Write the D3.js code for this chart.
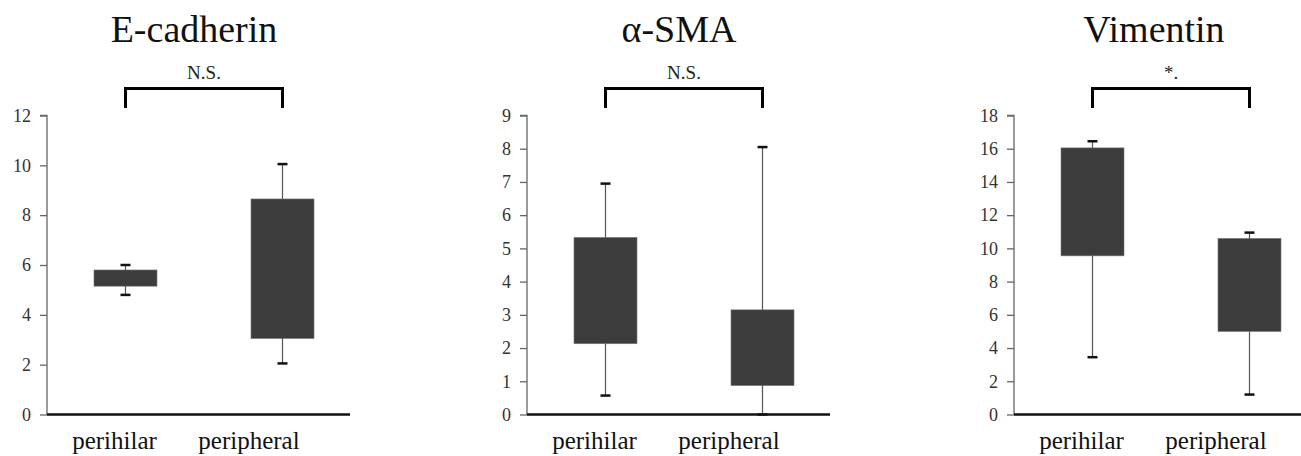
<!DOCTYPE html>
<html>
<head>
<meta charset="utf-8">
<script src="https://cdn.jsdelivr.net/npm/d3@7"></script>
<style>
  html body svg text, html body svg g text, html body svg g.tick text {
    font-family: "Liberation Serif", "Times New Roman", Times, serif !important;
  }
</style>
</head>
<body style="margin:0">
<script>
// data
const titles = ["E-cadherin", "\u03B1-SMA", "Vimentin"];
const categories = ["perihilar", "peripheral"];
const sigLabels = ["N.S.", "N.S.", "*."];
const yMax = [12, 9, 18];
const yStep = [2, 1, 2];
// per panel: [perihilar, peripheral]
const whiskerLow  = [[4.8, 2.05], [0.57, 0.0], [3.45, 1.2]];
const boxLow      = [[5.15, 3.05], [2.13, 0.87], [9.55, 5.0]];
const boxHigh     = [[5.8, 8.65], [5.33, 3.15], [16.05, 10.6]];
const whiskerHigh = [[6.0, 10.05], [6.95, 8.05], [16.45, 10.95]];

// layout
const svgwidth = 1301, svgheight = 456;
const panelX = [47, 527, 1014];
const axisW = [303, 303, 287];
const titleOffset = [147, 152, 140];
const plotTop = 115.5, plotBottom = 414.5;
const fontFam = "Liberation Serif";

var svg = d3.select("body").append("svg")
  .attr("width", svgwidth)
  .attr("height", svgheight)
  .style("display", "block");

titles.forEach(function(title, p) {
  let x0 = panelX[p];
  let g = svg.append("g").attr("transform", `translate(${x0},0)`);

  let y = d3.scaleLinear().domain([0, yMax[p]]).range([plotBottom, plotTop]);
  let xBox = d3.scalePoint().domain(categories).range([78.5, 235.5]);
  let xLab = d3.scalePoint().domain(categories).range([67, 201.5]);

  // y axis
  let yaxis = d3.axisLeft(y)
    .tickValues(d3.range(0, yMax[p] + yStep[p] / 2, yStep[p]))
    .tickSize(7)
    .tickPadding(9);
  let ya = g.append("g").call(yaxis)
    .attr("font-family", fontFam).attr("font-size", 18);
  ya.select(".domain").attr("stroke", "#666").attr("stroke-width", 1.3)
    .attr("d", `M-7,${plotTop}H0V${plotBottom}`);
  ya.selectAll(".tick line").attr("stroke", "#666").attr("stroke-width", 1.3);
  ya.selectAll(".tick text").attr("fill", "#333");

  // x axis line
  g.append("line")
    .attr("x1", 0).attr("x2", axisW[p])
    .attr("y1", plotBottom).attr("y2", plotBottom)
    .attr("stroke", "#111").attr("stroke-width", 2.5);

  // category labels
  let xa = g.append("g").attr("transform", `translate(0,${plotBottom})`)
    .call(d3.axisBottom(xLab).tickSize(0).tickPadding(17))
    .attr("font-family", fontFam).attr("font-size", 25);
  xa.select(".domain").remove();
  xa.selectAll(".tick text").attr("fill", "#111");

  // whiskers and boxes
  categories.forEach(function(c, i) {
    let cx = xBox(c);
    g.append("line")
      .attr("x1", cx).attr("x2", cx)
      .attr("y1", y(whiskerLow[p][i])).attr("y2", y(whiskerHigh[p][i]))
      .attr("stroke", "#555").attr("stroke-width", 1.2);
    [whiskerLow[p][i], whiskerHigh[p][i]].forEach(function(v) {
      g.append("line")
        .attr("x1", cx - 5).attr("x2", cx + 5)
        .attr("y1", y(v)).attr("y2", y(v))
        .attr("stroke", "#111").attr("stroke-width", 2.5);
    });
    g.append("rect")
      .attr("x", cx - 31.5)
      .attr("width", 63)
      .attr("y", y(boxHigh[p][i]))
      .attr("height", y(boxLow[p][i]) - y(boxHigh[p][i]))
      .attr("fill", "#3c3c3c")
      .attr("stroke", "#777")
      .attr("stroke-width", 0.6);
  });

  // significance bracket
  let c1 = xBox(categories[0]), c2 = xBox(categories[1]);
  g.append("path")
    .attr("d", `M${c1},108V88.5H${c2}V108`)
    .attr("fill", "none")
    .attr("stroke", "#000")
    .attr("stroke-width", 3);
  svg.append("text")
    .attr("x", x0 + (c1 + c2) / 2)
    .attr("y", 79)
    .attr("text-anchor", "middle")
    .style("font-family", fontFam)
    .attr("font-size", 19)
    .attr("fill", "#222")
    .text(sigLabels[p]);

  // title
  svg.append("text")
    .attr("x", x0 + titleOffset[p])
    .attr("y", 42)
    .attr("text-anchor", "middle")
    .style("font-family", fontFam)
    .attr("font-size", 38)
    .attr("fill", "#111")
    .text(title);
});
</script>
</body>
</html>
